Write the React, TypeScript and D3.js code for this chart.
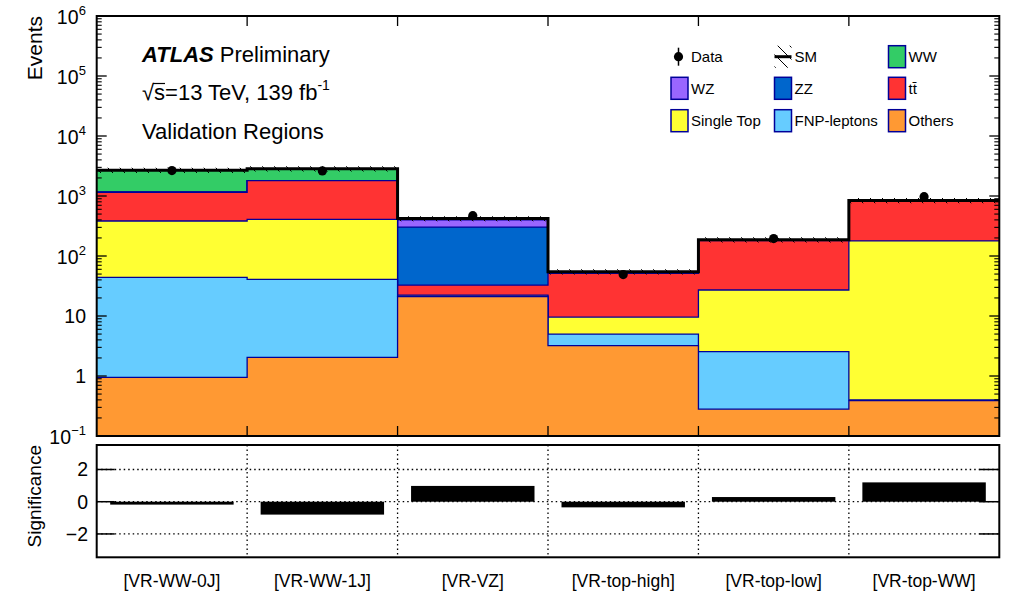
import React from "react";
import * as d3 from "d3";

const regions = ["[VR-WW-0J]", "[VR-WW-1J]", "[VR-VZ]", "[VR-top-high]", "[VR-top-low]", "[VR-top-WW]"];

// stacked components, bottom to top
const others = [0.95, 2.05, 21.0, 3.2, 0.28, 0.39];
const fnpLeptons = [43.2, 38.8, 0.4, 1.8, 2.26, 0.01];
const singleTop = [339, 368, 0.9, 4.6, 24.6, 177.6];
const ttbar = [770, 1391, 10.5, 41.8, 153, 637];
const zz = [5, 3, 271, 0.3, 0.5, 1];
const wz = [10, 8, 96, 0.6, 1.5, 3];
const ww = [1512, 1039, 20, 2.2, 4, 20];

const dataObs = [2650, 2620, 470, 49, 195, 975];
const significance = [-0.18, -0.8, 0.98, -0.35, 0.29, 1.2];
const smUncFrac = [0.1, 0.1, 0.1, 0.1, 0.1, 0.1];

const sigTicks = [-2, 0, 2];

const components = [
  { name: "Others", values: others, color: "#ff9933" },
  { name: "FNP-leptons", values: fnpLeptons, color: "#66ccff" },
  { name: "Single Top", values: singleTop, color: "#ffff33" },
  { name: "ttbar", values: ttbar, color: "#ff3333" },
  { name: "ZZ", values: zz, color: "#0066cc" },
  { name: "WZ", values: wz, color: "#9966ff" },
  { name: "WW", values: ww, color: "#33cc66" },
];

const FONT = "'Liberation Sans', Arial, Helvetica, sans-serif";
const OUT = "#000099";

export default function App() {
  const n = regions.length;
  const X0 = 96.7, X1 = 999.3;
  const TOP = 16, BOT = 436;
  const LTOP = 445, LBOT = 557.3;
  const x = d3.scaleLinear().domain([0, n]).range([X0, X1]);
  const y = d3.scaleLog().domain([0.1, 1e6]).range([BOT, TOP]);
  const ys = d3.scaleLinear().domain([-3.45, 3.52]).range([LBOT, LTOP]);

  // cumulative sums
  const cum: number[][] = [];
  components.forEach((c, k) => {
    cum.push(c.values.map((v, i) => (k === 0 ? 0 : cum[k - 1][i]) + v));
  });
  const total = cum[cum.length - 1];

  const stepLine = (vals: number[]) => {
    let p = `M${x(0)},${y(vals[0])}`;
    vals.forEach((v, i) => {
      p += `L${x(i)},${y(v)}L${x(i + 1)},${y(v)}`;
    });
    return p;
  };
  const stepArea = (vals: number[]) =>
    `M${x(0)},${BOT}` + stepLine(vals).replace(/^M/, "L") + `L${x(n)},${BOT}Z`;

  const bandPath = () => {
    const up = total.map((t, i) => t * (1 + smUncFrac[i]));
    const lo = total.map((t, i) => t * (1 - smUncFrac[i]));
    let p = "";
    for (let i = 0; i < n; i++) {
      p += `M${x(i)},${y(up[i])}L${x(i + 1)},${y(up[i])}L${x(i + 1)},${y(lo[i])}L${x(i)},${y(lo[i])}Z`;
    }
    return p;
  };

  // log ticks
  const majors: number[] = [];
  const minors: number[] = [];
  for (let k = -1; k <= 6; k++) {
    majors.push(Math.pow(10, k));
    if (k < 6) for (let m = 2; m <= 9; m++) minors.push(m * Math.pow(10, k));
  }
  const expLabel: Record<number, string> = { [-1]: "\u22121", 2: "2", 3: "3", 4: "4", 5: "5", 6: "6" };

  const legendCols = [671, 774.5, 888.5];
  const legendRows = [56.7, 88.3, 120.7];
  const legendItems: { label: React.ReactNode; color?: string; kind: string; col: number; row: number }[] = [
    { label: "Data", kind: "data", col: 0, row: 0 },
    { label: "SM", kind: "sm", col: 1, row: 0 },
    { label: "WW", kind: "box", color: "#33cc66", col: 2, row: 0 },
    { label: "WZ", kind: "box", color: "#9966ff", col: 0, row: 1 },
    { label: "ZZ", kind: "box", color: "#0066cc", col: 1, row: 1 },
    { label: "tt\u0304", kind: "box", color: "#ff3333", col: 2, row: 1 },
    { label: "Single Top", kind: "box", color: "#ffff33", col: 0, row: 2 },
    { label: "FNP-leptons", kind: "box", color: "#66ccff", col: 1, row: 2 },
    { label: "Others", kind: "box", color: "#ff9933", col: 2, row: 2 },
  ];

  return (
    <svg width={1015} height={593} style={{ position: "absolute", left: 0, top: 0, background: "#fff" }} fontFamily={FONT}>
      <defs>
        <pattern id="hatch" patternUnits="userSpaceOnUse" width={12} height={12}>
          <path d="M-2,-2L14,14M-2,10L2,14M10,-2L14,2" stroke="#000" strokeWidth={1} />
        </pattern>
        <clipPath id="topclip">
          <rect x={X0} y={TOP} width={X1 - X0} height={BOT - TOP} />
        </clipPath>
      </defs>
      <rect x={0} y={0} width={1015} height={593} fill="#fff" />

      {/* stacked histograms, drawn from top cumulative down */}
      <g clipPath="url(#topclip)">
        {components
          .map((c, k) => ({ c, k }))
          .reverse()
          .map(({ c, k }) => (
            <g key={c.name}>
              <path d={stepArea(cum[k])} fill={c.color} />
              <path d={stepLine(cum[k])} fill="none" stroke={OUT} strokeWidth={1.3} />
            </g>
          ))}
        <path d={bandPath()} fill="url(#hatch)" />
        <path d={stepLine(total)} fill="none" stroke="#000" strokeWidth={3} />
        {/* data */}
        {dataObs.map((d, i) => {
          const cx = (x(i) + x(i + 1)) / 2;
          const e = Math.sqrt(d);
          return (
            <g key={i}>
              <line x1={cx} x2={cx} y1={y(d + e)} y2={y(Math.max(d - e, 0.11))} stroke="#000" strokeWidth={1.5} />
              <circle cx={cx} cy={y(d)} r={4.6} fill="#000" />
            </g>
          );
        })}
      </g>

      {/* top frame ticks */}
      {majors.map((v) => (
        <g key={"M" + v}>
          <line x1={X0} x2={X0 + 10} y1={y(v)} y2={y(v)} stroke="#000" strokeWidth={1.3} />
          <line x1={X1 - 10} x2={X1} y1={y(v)} y2={y(v)} stroke="#000" strokeWidth={1.3} />
        </g>
      ))}
      {minors.map((v) => (
        <g key={"m" + v}>
          <line x1={X0} x2={X0 + 5} y1={y(v)} y2={y(v)} stroke="#000" strokeWidth={1.1} />
          <line x1={X1 - 5} x2={X1} y1={y(v)} y2={y(v)} stroke="#000" strokeWidth={1.1} />
        </g>
      ))}
      {d3.range(1, n).map((i) => (
        <g key={"xt" + i}>
          <line x1={x(i)} x2={x(i)} y1={BOT} y2={BOT - 10} stroke="#000" strokeWidth={1.3} />
          <line x1={x(i)} x2={x(i)} y1={TOP} y2={TOP + 10} stroke="#000" strokeWidth={1.3} />
        </g>
      ))}
      <rect x={X0} y={TOP} width={X1 - X0} height={BOT - TOP} fill="none" stroke="#000" strokeWidth={2} />

      {/* top y tick labels */}
      {majors.map((v) => {
        const k = Math.round(Math.log10(v));
        const ty = y(v);
        if (k === 0) return <text key={"l" + k} x={86} y={ty + 7} fontSize={19.5} textAnchor="end">1</text>;
        if (k === 1) return <text key={"l" + k} x={86} y={ty + 7} fontSize={19.5} textAnchor="end">10</text>;
        const exp = expLabel[k];
        const ew = k === -1 ? 15 : 7.5;
        return (
          <g key={"l" + k}>
            <text x={86 - ew} y={ty + 8.3} fontSize={19.5} textAnchor="end">10</text>
            <text x={86} y={ty - 1.5} fontSize={13} textAnchor="end">{exp}</text>
          </g>
        );
      })}

      <text transform={`translate(41.5,${TOP}) rotate(-90)`} fontSize={21} textAnchor="end">Events</text>

      {/* labels */}
      <text x={142} y={62} fontSize={22}>
        <tspan fontWeight="bold" fontStyle="italic">ATLAS</tspan>
        <tspan> Preliminary</tspan>
      </text>
      <text x={142} y={100} fontSize={22}>
        <tspan>{"\u221As=13 TeV, 139 fb"}</tspan>
        <tspan fontSize={14} dy={-10}>-1</tspan>
      </text>
      <line x1={153} x2={165} y1={83.5} y2={83.5} stroke="#000" strokeWidth={1.2} />
      <text x={142} y={138.5} fontSize={22}>Validation Regions</text>

      {/* legend */}
      {legendItems.map((it, idx) => {
        const bx = legendCols[it.col];
        const cy = legendRows[it.row];
        return (
          <g key={idx}>
            {it.kind === "box" && (
              <rect x={bx} y={cy - 11} width={17} height={22} fill={it.color} stroke={OUT} strokeWidth={1.5} />
            )}
            {it.kind === "data" && (
              <g>
                <line x1={bx + 7.5} x2={bx + 7.5} y1={cy - 9} y2={cy + 9} stroke="#000" strokeWidth={1.5} />
                <circle cx={bx + 7.5} cy={cy} r={4.6} fill="#000" />
              </g>
            )}
            {it.kind === "sm" && (
              <g>
                <rect x={bx} y={cy - 11} width={17} height={22} fill="url(#hatch)" />
                <line x1={bx} x2={bx + 17} y1={cy} y2={cy} stroke="#000" strokeWidth={3} />
              </g>
            )}
            <text x={bx + 20} y={cy + 5.5} fontSize={15}>{it.label}</text>
          </g>
        );
      })}

      {/* lower panel */}
      {d3.range(1, n).map((i) => (
        <line key={"vg" + i} x1={x(i)} x2={x(i)} y1={LTOP} y2={LBOT} stroke="#000" strokeWidth={1.3} strokeDasharray="1.5,3" />
      ))}
      {sigTicks.map((t) => (
        <line key={"hg" + t} x1={X0} x2={X1} y1={ys(t)} y2={ys(t)} stroke="#000" strokeWidth={1.3} strokeDasharray="1.5,3" />
      ))}
      {significance.map((s, i) => {
        const x0 = x(i) + 13.5, x1 = x(i + 1) - 13.5;
        const ya = ys(Math.max(s, 0)), yb = ys(Math.min(s, 0));
        return <rect key={"sb" + i} x={x0} y={ya} width={x1 - x0} height={Math.max(yb - ya, 1)} fill="#000" />;
      })}
      {sigTicks.map((t) => (
        <g key={"st" + t}>
          <line x1={X0} x2={X0 + 18} y1={ys(t)} y2={ys(t)} stroke="#000" strokeWidth={1.5} />
          <line x1={X1 - 20} x2={X1} y1={ys(t)} y2={ys(t)} stroke="#000" strokeWidth={1.5} />
          <text x={88} y={ys(t) + 7} fontSize={19.5} textAnchor="end">{t < 0 ? "\u2212" + Math.abs(t) : String(t)}</text>
        </g>
      ))}
      <rect x={X0} y={LTOP} width={X1 - X0} height={LBOT - LTOP} fill="none" stroke="#000" strokeWidth={2} />
      <text transform={`translate(41,${LTOP}) rotate(-90)`} fontSize={19} textAnchor="end">Significance</text>

      {regions.map((r, i) => (
        <text key={r} x={(x(i) + x(i + 1)) / 2} y={586.5} fontSize={17.5} textAnchor="middle">{r}</text>
      ))}
    </svg>
  );
}
